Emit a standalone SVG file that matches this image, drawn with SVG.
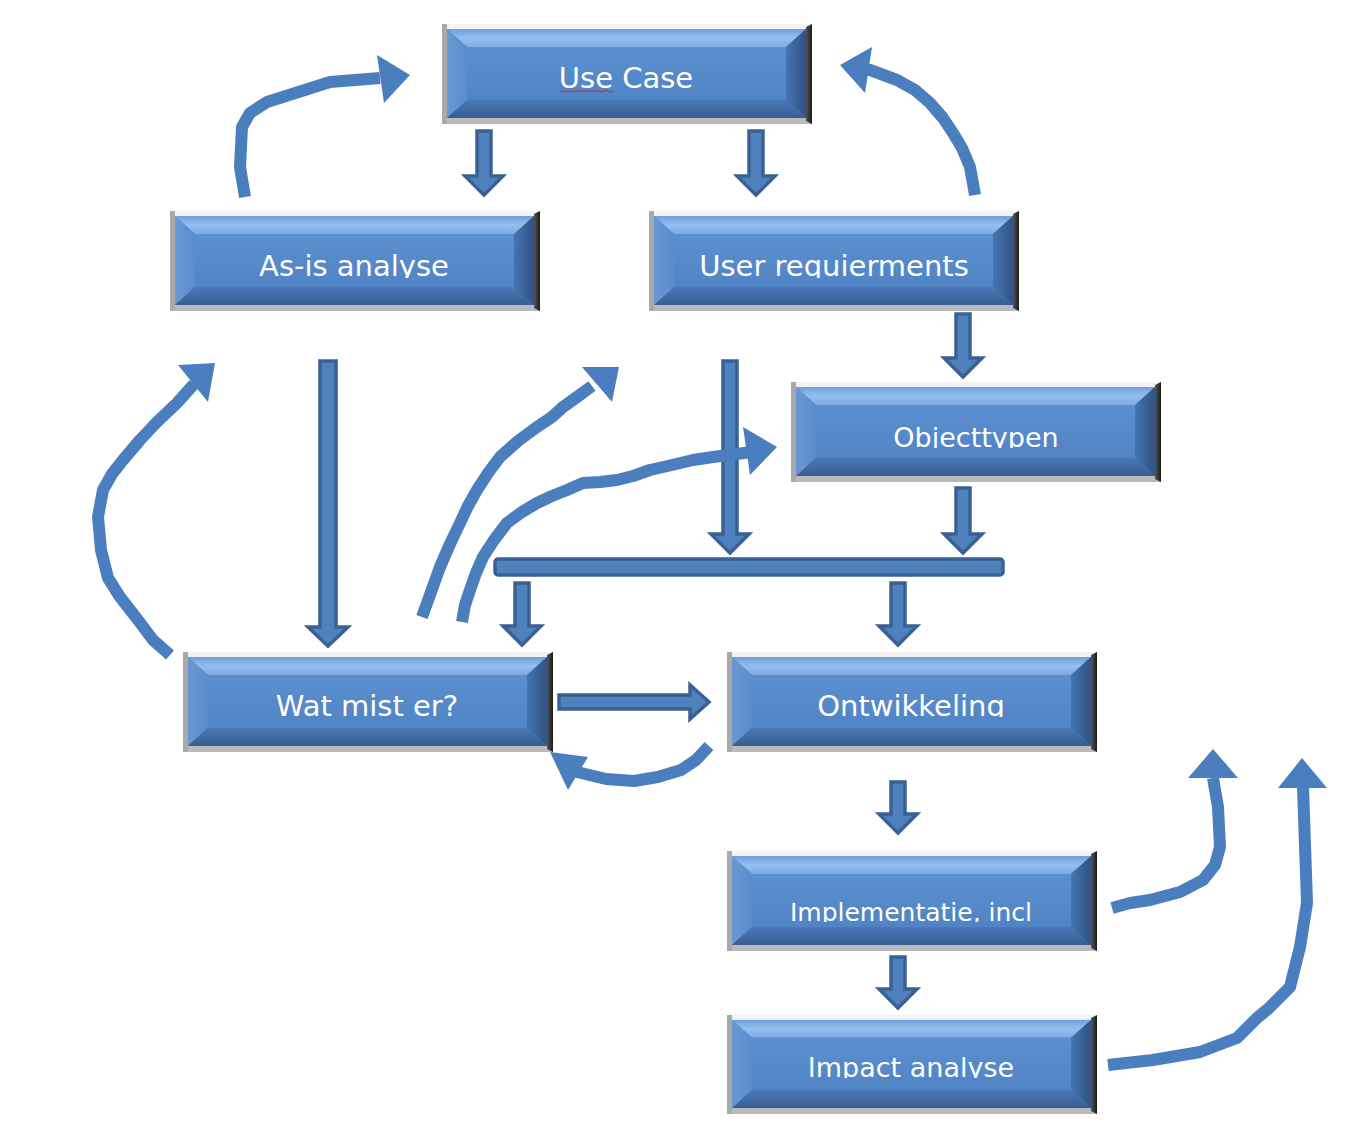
<svg xmlns="http://www.w3.org/2000/svg" xmlns:xlink="http://www.w3.org/1999/xlink" width="1358" height="1143" viewBox="0 0 1358 1143">
<style>
.lbl{font-family:"DejaVu Sans","Liberation Sans",sans-serif;font-size:29px;fill:#ffffff;text-anchor:middle}
.blk{fill:#4f81bd;stroke:#3a6194;stroke-width:3.5;stroke-linejoin:miter}
.crv{fill:none;stroke:#4a7ebf;stroke-width:12;stroke-linejoin:round;stroke-linecap:butt}
.hd{fill:#4a7ebf}
</style>
<defs>
<linearGradient id="gFrame" x1="0" y1="0" x2="0" y2="1"><stop offset="0" stop-color="#f4f4f4"/><stop offset="1" stop-color="#b8b8b8"/></linearGradient>
<linearGradient id="gTop" x1="0" y1="0" x2="0" y2="1"><stop offset="0" stop-color="#6f9edb"/><stop offset="0.5" stop-color="#95bfef"/><stop offset="1" stop-color="#7eaae4"/></linearGradient>
<linearGradient id="gLeft" x1="0" y1="0" x2="1" y2="0"><stop offset="0" stop-color="#6a98d5"/><stop offset="1" stop-color="#5a8ccc"/></linearGradient>
<linearGradient id="gRight" x1="0" y1="0" x2="1" y2="0"><stop offset="0" stop-color="#4675b1"/><stop offset="1" stop-color="#2f5283"/></linearGradient>
<linearGradient id="gBot" x1="0" y1="0" x2="0" y2="1"><stop offset="0" stop-color="#4a79b6"/><stop offset="1" stop-color="#365d92"/></linearGradient>
<linearGradient id="gFace" x1="0" y1="0" x2="0" y2="1"><stop offset="0" stop-color="#5b8fd0"/><stop offset="1" stop-color="#5084c4"/></linearGradient>
<linearGradient id="gEdge" x1="0" y1="0" x2="1" y2="0"><stop offset="0" stop-color="#555"/><stop offset="1" stop-color="#1a1a1a"/></linearGradient>
<symbol id="bevel" viewBox="0 0 370 100" preserveAspectRatio="none">
<rect x="0" y="0" width="370" height="100" fill="url(#gFrame)"/>
<rect x="0" y="0" width="5" height="100" fill="#a9a9a9"/>
<polygon points="364,3 370,0 370,100 364,97" fill="url(#gEdge)"/>
<rect x="5" y="5" width="359" height="89" fill="#4f81bd"/>
<polygon points="5,5 364,5 344,23 25,23" fill="url(#gTop)"/>
<polygon points="5,5 25,23 25,76 5,94" fill="url(#gLeft)"/>
<polygon points="364,5 364,94 344,76 344,23" fill="url(#gRight)"/>
<polygon points="5,94 25,76 344,76 364,94" fill="url(#gBot)"/>
<rect x="25" y="23" width="319" height="53" fill="url(#gFace)"/>
</symbol>
<clipPath id="cAsis"><rect x="170" y="211" width="370" height="67"/></clipPath>
<clipPath id="cUser"><rect x="649" y="211" width="370" height="67"/></clipPath>
<clipPath id="cObj"><rect x="791" y="382" width="370" height="66"/></clipPath>
<clipPath id="cOnt"><rect x="727" y="652" width="370" height="65"/></clipPath>
<clipPath id="cImpl"><rect x="727" y="850" width="370" height="72"/></clipPath>
<clipPath id="cImp"><rect x="727" y="1015" width="370" height="63"/></clipPath>
</defs>
<rect width="1358" height="1143" fill="#ffffff"/>

<g id="connectors">
<path class="blk" d="M477,131 H491 V176 H503 L484,195 L465,176 H477 Z"/>
<path class="blk" d="M749,131 H763 V176 H775 L756,195 L737,176 H749 Z"/>
<path class="blk" d="M956,314 H970 V358 H982 L963,377 L944,358 H956 Z"/>
<path class="blk" d="M956,488 H970 V534 H982 L963,553 L944,534 H956 Z"/>
<path class="blk" d="M320,361 H336 V627 H348 L328,646 L308,627 H320 Z"/>
<path class="blk" d="M723,361 H737 V534 H749 L730,553 L711,534 H723 Z"/>
<rect class="blk" x="495" y="559" width="508" height="16" rx="3" stroke-width="4"/>
<path class="blk" d="M515,583 H529 V626 H541 L522,645 L503,626 H515 Z"/>
<path class="blk" d="M891,583 H905 V626 H917 L898,645 L879,626 H891 Z"/>
<path class="blk" d="M891,782 H905 V814 H917 L898,833 L879,814 H891 Z"/>
<path class="blk" d="M891,957 H905 V989 H917 L898,1008 L879,989 H891 Z"/>
<path class="blk" d="M559,695 H690 V685 L709,702 L690,719 V709 H559 Z"/>

<path class="crv" d="M245,197 L240,167 L242,127 L250,113 L267,102 L330,82 L380,78"/>
<polygon class="hd" points="377,55 410,75 384,103"/>
<path class="crv" d="M975,195 L970,167 L962,148 L953,133 L943,118 L930,103 L915,90 L897,80 L870,70 L860,70"/>
<polygon class="hd" points="840,65 872,47 865,93"/>
<path class="crv" d="M170,655 L153,640 L138,620 L120,597 L108,578 L101,550 L98,517 L103,490 L112,474 L123,460 L140,440 L157,422 L177,403 L194,384"/>
<polygon class="hd" points="178,365 215,363 208,402"/>
<path class="crv" d="M422,617 L431,592 L440,567 L450,544 L460,523 L468,506 L477,490 L488,473 L500,457 L518,441 L537,427 L552,417 L563,407 L577,397 L592,386"/>
<polygon class="hd" points="582,367 619,367 612,402"/>
<path class="crv" d="M462,622 L465,605 L470,590 L476,573 L483,557 L494,540 L507,523 L522,512 L537,503 L552,496 L567,490 L583,483 L600,482 L617,480 L633,476 L650,470 L672,465 L693,460 L713,457 L752,452"/>
<polygon class="hd" points="743,427 777,447 750,475"/>
<path class="crv" d="M709,746 L696,760 L681,770 L658,777 L634,781 L606,779 L577,772"/>
<polygon class="hd" points="550,752 588,757 568,790"/>
<path class="crv" d="M1112,908 L1130,903 L1150,900 L1180,892 L1203,880 L1215,865 L1220,847 L1218,807 L1213,778"/>
<polygon class="hd" points="1188,778 1238,778 1213,749"/>
<path class="crv" d="M1108,1065 L1153,1060 L1200,1052 L1237,1038 L1257,1018 L1268,1009 L1290,987 L1300,947 L1307,903 L1303,787"/>
<polygon class="hd" points="1278,788 1327,788 1302,758"/>
</g>

<g id="node-usecase">
<use xlink:href="#bevel" href="#bevel" x="442" y="24" width="370" height="100"/>
<text class="lbl" x="626" y="88">Use Case</text>
<path d="M561,92 l2,-1.5 l2,1.5 l2,-1.5 l2,1.5 l2,-1.5 l2,1.5 l2,-1.5 l2,1.5 l2,-1.5 l2,1.5 l2,-1.5 l2,1.5 l2,-1.5 l2,1.5 l2,-1.5 l2,1.5 l2,-1.5 l2,1.5 l2,-1.5 l2,1.5 l2,-1.5 l2,1.5 l2,-1.5 l2,1.5 l2,-1.5 l2,1.5" fill="none" stroke="#d0213a" stroke-width="1.3" stroke-dasharray="2,1.5"/>
</g>
<g id="node-asis">
<use xlink:href="#bevel" href="#bevel" x="170" y="211" width="370" height="100"/>
<text class="lbl" x="354" y="276" clip-path="url(#cAsis)">As-is analyse</text>
</g>
<g id="node-userreq">
<use xlink:href="#bevel" href="#bevel" x="649" y="211" width="370" height="100"/>
<text class="lbl" x="834" y="276" clip-path="url(#cUser)">User requierments</text>
</g>
<g id="node-objecttypen">
<use xlink:href="#bevel" href="#bevel" x="791" y="382" width="370" height="100"/>
<text class="lbl" x="976" y="447" style="font-size:27px" clip-path="url(#cObj)">Objecttypen</text>
</g>
<g id="node-watmist">
<use xlink:href="#bevel" href="#bevel" x="183" y="652" width="370" height="100"/>
<text class="lbl" x="367" y="716">Wat mist er?</text>
</g>
<g id="node-ontwikkeling">
<use xlink:href="#bevel" href="#bevel" x="727" y="652" width="370" height="100"/>
<text class="lbl" x="911" y="716" clip-path="url(#cOnt)">Ontwikkeling</text>
</g>
<g id="node-implementatie">
<use xlink:href="#bevel" href="#bevel" x="727" y="851" width="370" height="100"/>
<text class="lbl" x="911" y="921" style="font-size:25px" clip-path="url(#cImpl)">Implementatie, incl</text>
</g>
<g id="node-impact">
<use xlink:href="#bevel" href="#bevel" x="727" y="1015" width="370" height="99"/>
<text class="lbl" x="911" y="1077" style="font-size:27px" clip-path="url(#cImp)">Impact analyse</text>
</g>
</svg>
